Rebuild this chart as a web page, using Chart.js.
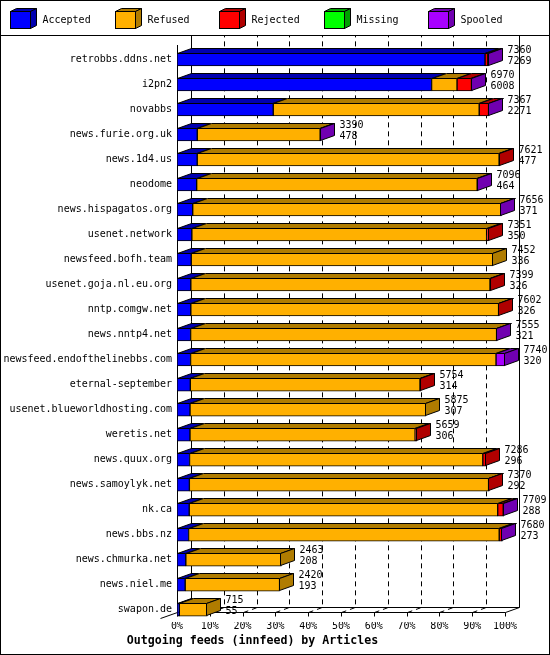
<!DOCTYPE html>
<html><head><meta charset="utf-8">
<style>html,body{margin:0;padding:0;background:#fff}canvas{display:block}</style>
<script src="https://cdn.jsdelivr.net/npm/chart.js@4.4.1/dist/chart.umd.min.js"></script>
</head><body>
<canvas id="c" width="550" height="655" style="width:550px;height:655px"></canvas>
<script>
const hosts = ['retrobbs.ddns.net','i2pn2','novabbs','news.furie.org.uk','news.1d4.us','neodome',
  'news.hispagatos.org','usenet.network','newsfeed.bofh.team','usenet.goja.nl.eu.org','nntp.comgw.net',
  'news.nntp4.net','newsfeed.endofthelinebbs.com','eternal-september','usenet.blueworldhosting.com',
  'weretis.net','news.quux.org','news.samoylyk.net','nk.ca','news.bbs.nz','news.chmurka.net',
  'news.niel.me','swapon.de'];
const offered  = [7360,6970,7367,3390,7621,7096,7656,7351,7452,7399,7602,7555,7740,5754,5875,5659,7286,7370,7709,7680,2463,2420,715];
const accepted = [7269,6008,2271,478,477,464,371,350,336,326,326,321,320,314,307,306,296,292,288,273,208,193,55];
const refused  = [0,600,4860,2900,7124,6620,7270,6956,7116,7060,7262,7220,7208,5420,5568,5313,6920,7060,7280,7330,2255,2227,660];
const rejected = [65,340,220,0,20,0,0,45,0,13,14,0,0,20,0,40,70,18,130,60,0,0,0];
const missing  = [0,0,0,0,0,0,0,0,0,0,0,0,0,0,0,0,0,0,0,0,0,0,0];
const spooled  = [26,22,16,12,0,12,15,0,0,0,0,14,212,0,0,0,0,0,11,17,0,0,0];
const seriesNames = ['Accepted','Refused','Rejected','Missing','Spooled'];
const frontColors = ['#0000ff','#ffb000','#ff0000','#00ff00','#a800ff'];
const darkColors  = ['#0000b0','#b07c00','#b00000','#00a000','#7000b0'];
const xTicks = [0,10,20,30,40,50,60,70,80,90,100];
const titleText = 'Outgoing feeds (innfeed) by Articles';

const MONO = "'DejaVu Sans Mono', monospace";
const maxOffered = Math.max(...offered);
const pct = arr => arr.map(v => v > 0 ? v / maxOffered * 100 : null);
const series = [accepted, refused, rejected, missing, spooled];

const DX = 14, DY = -5;

const depthPlugin = {
  id: 'depth',
  beforeDatasetsDraw(chart) {
    const {ctx, chartArea: a, scales: {x}} = chart;
    const floorF = 612.5, floorB = floorF + DY, topY = 36;
    ctx.save();
    ctx.strokeStyle = '#000';
    ctx.lineWidth = 1;
    // dashed grid: floor diagonal then up the back wall
    ctx.setLineDash([5, 4]);
    xTicks.forEach(p => {
      if (p <= 0 || p >= 100) return;
      const xf = Math.round(x.getPixelForValue(p)) + 0.5;
      ctx.beginPath();
      ctx.moveTo(xf, floorF);
      ctx.lineTo(xf + DX, floorB);
      ctx.lineTo(xf + DX, topY);
      ctx.stroke();
    });
    ctx.setLineDash([]);
    const x0 = Math.round(x.getPixelForValue(0)) + 0.5;
    const x1 = Math.round(x.getPixelForValue(100)) + 0.5;
    ctx.beginPath();
    // back wall left and right edges
    ctx.moveTo(x0 + DX, topY); ctx.lineTo(x0 + DX, floorB);
    ctx.moveTo(x1 + DX, topY); ctx.lineTo(x1 + DX, floorB);
    // front left edge
    ctx.moveTo(x0, a.top - 2); ctx.lineTo(x0, floorF);
    // floor lines
    ctx.moveTo(x0 + DX, floorB); ctx.lineTo(x1 + DX, floorB);
    ctx.moveTo(x0 - 17, floorF + 6); ctx.lineTo(x0, floorF); ctx.lineTo(x1, floorF); ctx.lineTo(x1 + DX, floorB);
    ctx.moveTo(x0, floorF); ctx.lineTo(x0 + DX, floorB);
    // tick marks
    xTicks.forEach(p => {
      const xf = Math.round(x.getPixelForValue(p)) + 0.5;
      ctx.moveTo(xf, floorF); ctx.lineTo(xf, floorF + 4);
    });
    ctx.stroke();
    ctx.restore();
  },
  afterDatasetsDraw(chart) {
    const {ctx} = chart;
    ctx.save();
    ctx.strokeStyle = '#000';
    ctx.lineWidth = 1;
    hosts.forEach((h, i) => {
      let last = null;
      chart.data.datasets.forEach((ds, d) => {
        if (ds.data[i] == null) return;
        const el = chart.getDatasetMeta(d).data[i];
        const p = el.getProps(['x', 'base', 'y', 'height'], true);
        const xa = Math.min(p.x, p.base), xb = Math.max(p.x, p.base);
        const yt = Math.round(p.y - p.height / 2) + 0.5;
        const yb = Math.round(p.y + p.height / 2) - 0.5;
        const xa5 = Math.round(xa) + 0.5, xb5 = Math.round(xb) - 0.5;
        ctx.beginPath();
        ctx.moveTo(xa5, yt); ctx.lineTo(xa5 + DX, yt + DY);
        ctx.lineTo(xb5 + DX, yt + DY); ctx.lineTo(xb5, yt); ctx.closePath();
        ctx.fillStyle = ds.darkColor; ctx.fill(); ctx.stroke();
        last = {xb5, yt, yb, dark: ds.darkColor, y: p.y};
      });
      if (!last) return;
      ctx.beginPath();
      ctx.moveTo(last.xb5, last.yt); ctx.lineTo(last.xb5 + DX, last.yt + DY);
      ctx.lineTo(last.xb5 + DX, last.yb + DY); ctx.lineTo(last.xb5, last.yb); ctx.closePath();
      ctx.fillStyle = last.dark; ctx.fill(); ctx.stroke();
      ctx.fillStyle = '#000';
      ctx.font = '10px ' + MONO;
      ctx.textAlign = 'left';
      ctx.textBaseline = 'middle';
      const tx = last.xb5 + DX + 5;
      ctx.fillText(String(offered[i]), tx, last.y - 9.5);
      ctx.fillText(String(accepted[i]), tx, last.y + 1.5);
    });
    ctx.restore();
  },
  afterDraw(chart) {
    const {ctx} = chart;
    ctx.save();
    ctx.strokeStyle = '#000';
    ctx.lineWidth = 1;
    // legend
    chart.data.datasets.forEach((ds, i) => {
      const bx = Math.round(10 + i * 104.5) + 0.5, by = 11.5, w = 20, hgt = 17, dx = 6, dy = -3;
      ctx.beginPath();
      ctx.moveTo(bx, by); ctx.lineTo(bx + dx, by + dy); ctx.lineTo(bx + w + dx, by + dy); ctx.lineTo(bx + w, by); ctx.closePath();
      ctx.fillStyle = ds.darkColor; ctx.fill(); ctx.stroke();
      ctx.beginPath();
      ctx.moveTo(bx + w, by); ctx.lineTo(bx + w + dx, by + dy); ctx.lineTo(bx + w + dx, by + hgt + dy); ctx.lineTo(bx + w, by + hgt); ctx.closePath();
      ctx.fill(); ctx.stroke();
      ctx.fillStyle = ds.backgroundColor;
      ctx.fillRect(bx, by, w, hgt);
      ctx.strokeRect(bx, by, w, hgt);
      ctx.fillStyle = '#000';
      ctx.font = '10px ' + MONO;
      ctx.textAlign = 'left';
      ctx.textBaseline = 'middle';
      ctx.fillText(ds.label, bx + 32, 20);
    });
    ctx.beginPath();
    ctx.moveTo(0, 35.5); ctx.lineTo(550, 35.5);
    ctx.stroke();
    ctx.strokeRect(0.5, 0.5, 549, 654);
    ctx.restore();
  }
};

new Chart(document.getElementById('c'), {
  type: 'bar',
  data: {
    labels: hosts,
    datasets: series.map((s, k) => ({
      label: seriesNames[k],
      data: pct(s),
      backgroundColor: frontColors[k],
      darkColor: darkColors[k],
      borderColor: '#000',
      borderWidth: 1,
      borderSkipped: false,
      barThickness: 13
    }))
  },
  options: {
    indexAxis: 'y',
    responsive: false,
    animation: false,
    devicePixelRatio: 1,
    layout: {padding: {top: 47, right: 45, left: 0, bottom: 0}},
    plugins: {
      legend: {display: false},
      tooltip: {enabled: false},
      title: {
        display: true, text: titleText, position: 'bottom', color: '#000',
        font: {family: MONO, size: 11.6, weight: 'bold', lineHeight: 1.2},
        padding: {top: 0, bottom: 7}
      }
    },
    scales: {
      x: {
        type: 'linear', min: 0, max: 100, stacked: true,
        grid: {display: false, drawTicks: false}, border: {display: false},
        ticks: {stepSize: 10, callback: v => v + '%', color: '#000', font: {family: MONO, size: 10}, padding: -2, maxRotation: 0, autoSkip: false},
        afterFit: s => { s.height = 12; }
      },
      y: {
        type: 'category', stacked: true,
        grid: {display: false, drawTicks: false}, border: {display: false},
        ticks: {color: '#000', font: {family: MONO, size: 10}, padding: 5, autoSkip: false},
        afterFit: s => { s.width = 177; }
      }
    }
  },
  plugins: [depthPlugin]
});
</script>
</body></html>
